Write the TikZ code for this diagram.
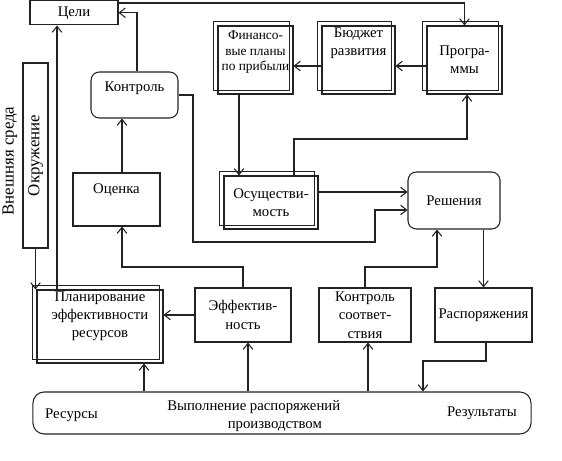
\documentclass[tikz,border=0pt]{standalone}
\usepackage{fontspec}
\setmainfont{Liberation Serif}
\usetikzlibrary{arrows.meta}
\definecolor{mgline}{HTML}{222222}

\begin{document}
\begin{tikzpicture}[x=0.025cm, y=-0.025cm,
  box/.style={draw=mgline, line width=0.75pt, align=center, inner sep=1pt, font=\fontsize{10.5}{13}\selectfont},
  rbox/.style={box, rounded corners=6pt},
  arr/.style={-{Straight Barb[length=1.5mm,width=2.4mm]}, mgline, line width=0.75pt},
  txt/.style={inner sep=0pt, font=\fontsize{10.5}{13}\selectfont}
]
  \useasboundingbox (0,0) rectangle (562,461);

  % top row
  \node[box, minimum width=2.2cm, minimum height=0.61cm] (goal) at (74,12.75) {Цели};
  \node[box, minimum width=1.875cm, minimum height=1.7cm, text depth=0.45cm,
        font=\fontsize{9.5}{11}\selectfont] (fin) at (255.5,60) {Финансо-\\вые планы\\по прибыли};
  \node[box, minimum width=1.825cm, minimum height=1.7cm, text depth=0.9cm] (bud) at (358.5,60) {Бюджет\\развития};
  \node[box, minimum width=1.875cm, minimum height=1.7cm] (prog) at (464.5,60) {Програ-\\ммы};

  % left side
  \node[txt, rotate=90, font=\fontsize{12}{14}\selectfont] (ext) at (10,161) {Внешняя среда};
  \node[box, rotate=90, minimum width=4.625cm, minimum height=0.625cm,
        font=\fontsize{12}{14}\selectfont] (env) at (35.5,155.5) {Окружение};
  \node[rbox, minimum width=2.175cm, minimum height=1.15cm, text depth=0.42cm] (ctrl) at (134.5,95) {Контроль};
  \node[box, minimum width=2.175cm, minimum height=1.325cm, text depth=0.55cm] (est) at (116.5,199.5) {Оценка};

  % middle row
  \node[box, minimum width=2.35cm, minimum height=1.325cm] (osu) at (271,202.5) {Осуществи-\\мость};
  \node[rbox, minimum width=2.3cm, minimum height=1.425cm] (dec) at (454,200.5) {Решения};

  % lower row
  \node[box, minimum width=3.15cm, minimum height=1.725cm, text depth=0.6cm] (plan) at (100,326.5) {Планирование\\эффективности\\ресурсов};
  \node[box, minimum width=2.4cm, minimum height=1.35cm] (eff) at (243,315) {Эффектив-\\ность};
  \node[box, minimum width=2.3cm, minimum height=1.35cm] (comp) at (365,315) {Контроль\\соответ-\\ствия};
  \node[box, minimum width=2.425cm, minimum height=1.35cm] (ord) at (483.5,315) {Распоряжения};

  % production
  \node[rbox, rounded corners=8pt, minimum width=12.45cm, minimum height=1.05cm] (exec) at (282,413) {};
  \node[txt] (resin) at (71.5,415) {Ресурсы};
  \node[txt, anchor=west, align=left] (exectxt) at (167,416) {Выполнение распоряжений\\\hspace*{4.1em}производством};
  \node[txt] (resout) at (482,413) {Результаты};

  % second frame of the double boxes
  \foreach \n in {fin,bud,prog,osu,plan}
    \draw[mgline, line width=0.75pt] ([shift={(-4,-4)}]\n.north west) rectangle ([shift={(-4,-4)}]\n.south east);

  \draw[arr] (goal.east |- 0,3) -| (prog.north);
  \draw[arr] (ctrl.north -| 137,0) |- (goal.east);
  \draw[arr] (ctrl.east) -| (193,242) -| (375,210) -- (dec.west |- 0,210);
  \draw[arr] (est.north -| 122,0) -- (ctrl.south -| 122,0);
  \draw[arr] (eff.north) |- (122,267) -- (est.south -| 122,0);
  \draw[arr] (env.west) -- (env.west |- plan.north);
  \draw[arr] (plan.north -| 57,0) -- (goal.south -| 57,0);
  \draw[arr] (prog.west |- 0,66) -- (bud.east |- 0,66);
  \draw[arr] (bud.west |- 0,66) -- (fin.east |- 0,66);
  \draw[arr] (fin.south -| 239,0) -- (osu.north -| 239,0);
  \draw[arr] (osu.north -| 294,0) |- (467,139) -- (prog.south -| 467,0);
  \draw[arr] (osu.east |- 0,192) -- (dec.west |- 0,192);
  \draw[arr] (ord.north |- dec.south) -- (ord.north);
  \draw[arr] (comp.north) |- (437,267) -- (dec.south -| 437,0);
  \draw[arr] (eff.west) -- (plan.east |- eff.west);
  \draw[arr] (exec.north -| 144,0) -- (plan.south -| 144,0);
  \draw[arr] (exec.north -| 248,0) -- (eff.south -| 248,0);
  \draw[arr] (exec.north -| 368,0) -- (comp.south -| 368,0);
  \draw[arr] (ord.south -| 486,0) |- (423,361) -- (exec.north -| 423,0);
\end{tikzpicture}
\end{document}
